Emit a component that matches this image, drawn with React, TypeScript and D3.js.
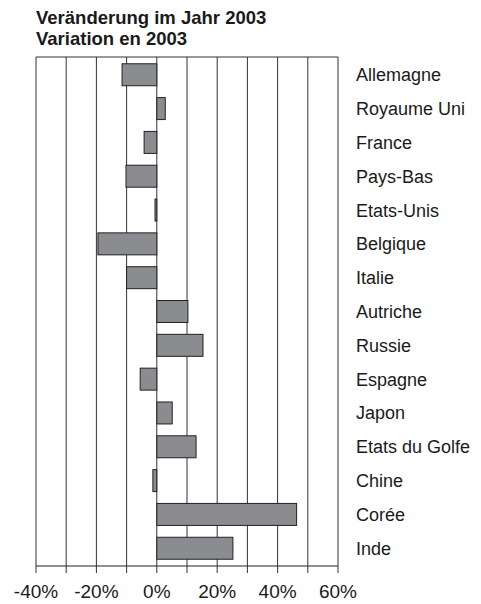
import React from "react";
import * as d3 from "d3";

const titleLines = ["Veränderung im Jahr 2003", "Variation en 2003"];
const categories = [
  "Allemagne",
  "Royaume Uni",
  "France",
  "Pays-Bas",
  "Etats-Unis",
  "Belgique",
  "Italie",
  "Autriche",
  "Russie",
  "Espagne",
  "Japon",
  "Etats du Golfe",
  "Chine",
  "Corée",
  "Inde",
];
const values = [-11.5, 2.8, -4.2, -10.2, -0.6, -19.5, -10, 10.3, 15.3, -5.5, 5.1, 13, -1.3, 46.3, 25.2];
const ticks = [-40, -30, -20, -10, 0, 10, 20, 30, 40, 50, 60];
const tickLabels = [-40, -20, 0, 20, 40, 60];

export default function App() {
  const W = 481;
  const H = 604;
  const left = 36;
  const right = 338;
  const top = 57;
  const bottom = 566;
  const font = "'Liberation Sans', Arial, Helvetica, sans-serif";

  const x = d3.scaleLinear().domain([-40, 60]).range([left, right]);
  const y = d3
    .scaleBand<string>()
    .domain(categories)
    .range([top, bottom])
    .paddingInner(0.35)
    .paddingOuter(0.2);

  return (
    <svg
      width={W}
      height={H}
      style={{ position: "absolute", left: 0, top: 0, background: "#fff" }}
      fontFamily={font}
    >
      {titleLines.map((t, i) => (
        <text key={t} x={36} y={24 + i * 21} fontSize={18.5} fontWeight="bold" fill="#1a1a1a">
          {t}
        </text>
      ))}
      {/* gridlines */}
      {ticks.map((t) => (
        <line key={t} x1={x(t)} x2={x(t)} y1={top} y2={bottom + 7} stroke="#333" strokeWidth={1} />
      ))}
      <line x1={left} x2={right} y1={top} y2={top} stroke="#333" strokeWidth={1} />
      <line x1={left} x2={right} y1={bottom} y2={bottom} stroke="#222" strokeWidth={1} />
      {/* bars */}
      {categories.map((c, i) => {
        const v = values[i];
        const x0 = x(Math.min(0, v));
        const x1 = x(Math.max(0, v));
        return (
          <rect
            key={c}
            x={x0}
            y={y(c)}
            width={Math.max(1, x1 - x0)}
            height={y.bandwidth()}
            fill="#8b8c8f"
            stroke="#222"
            strokeWidth={1}
          />
        );
      })}
      {/* category labels */}
      {categories.map((c) => (
        <text
          key={c}
          x={356}
          y={(y(c) as number) + y.bandwidth() / 2}
          dy="0.36em"
          fontSize={18}
          fill="#1a1a1a"
        >
          {c}
        </text>
      ))}
      {/* tick labels */}
      {tickLabels.map((t) => (
        <text key={t} x={x(t)} y={598} textAnchor="middle" fontSize={19} fill="#1a1a1a">
          {`${t}%`}
        </text>
      ))}
    </svg>
  );
}
